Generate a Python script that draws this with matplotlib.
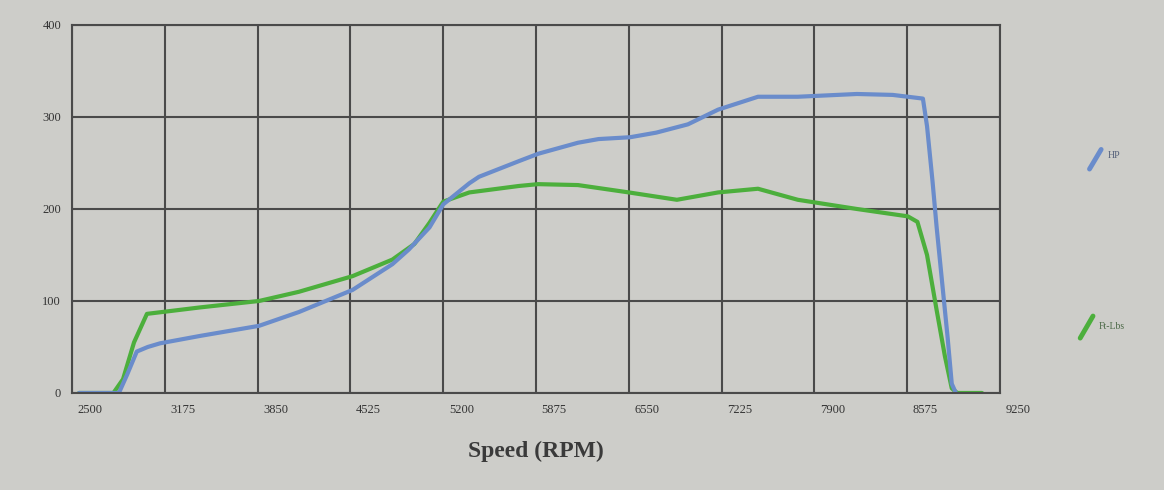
import matplotlib.pyplot as plt
import matplotlib.transforms as mtransforms
from matplotlib.lines import Line2D

# engine speed (RPM) and readings
hp_rpm = [2550, 2840, 2900, 2970, 3050, 3140, 3430, 3860, 4150, 4540, 4830, 4950,
          5100, 5200, 5390, 5460, 5750, 5890, 6180, 6330, 6560, 6750, 6980, 7200,
          7490, 7780, 8210, 8470, 8690, 8720, 8760, 8790, 8830, 8870, 8900, 8930]
hp = [0, 0, 20, 45, 50, 54, 62, 73, 88, 112, 140, 156,
      180, 205, 228, 235, 252, 260, 272, 276, 278, 283, 292, 308,
      322, 322, 325, 324, 320, 290, 230, 180, 120, 60, 10, 0]

tq_rpm = [2550, 2800, 2870, 2950, 3044, 3210, 3430, 3860, 4150, 4540, 4830, 4990,
          5100, 5200, 5390, 5750, 5890, 6180, 6550, 6900, 7200, 7490, 7780, 8210,
          8580, 8650, 8720, 8790, 8850, 8900, 8940, 9120]
torque = [0, 0, 15, 55, 86, 89, 93, 100, 110, 127, 145, 162,
          185, 208, 218, 225, 227, 226, 218, 210, 218, 222, 210, 200,
          192, 186, 150, 90, 40, 5, 0, 0]

x_ticks = [2500, 3175, 3850, 4525, 5200, 5875, 6550, 7225, 7900, 8575, 9250]
y_ticks = [0, 100, 200, 300, 400]

paper = '#cdcdc9'
grid_col = '#4a4a4a'
hp_col = '#6a8ccb'
tq_col = '#4caf3c'

plt.rcParams['font.family'] = ['Liberation Serif', 'DejaVu Serif']

fig = plt.figure(figsize=(11.64, 4.9), dpi=100, facecolor=paper)
ax = fig.add_axes([0.062, 0.198, 0.797, 0.751], facecolor=paper)

ax.plot(tq_rpm, torque, color=tq_col, lw=3, solid_capstyle='round')
ax.plot(hp_rpm, hp, color=hp_col, lw=3, solid_capstyle='round')

ax.set_xlim(2500, 9250)
ax.set_ylim(0, 400)
ax.set_xticks(x_ticks)
ax.set_yticks(y_ticks)
ax.set_xticklabels([str(t) for t in x_ticks], fontsize=9, color='#333333')
ax.set_yticklabels([str(t) for t in y_ticks], fontsize=9, color='#333333')
ax.tick_params(length=0, pad=8)

# labels sit a little to the right of the grid lines on the sheet
shift = mtransforms.ScaledTranslation(0.18, 0, fig.dpi_scale_trans)
for lbl in ax.get_xticklabels():
    lbl.set_transform(lbl.get_transform() + shift)

ax.grid(True, color=grid_col, lw=1.5)
ax.set_axisbelow(True)
for s in ax.spines.values():
    s.set_color(grid_col)
    s.set_linewidth(1.5)

ax.set_xlabel('Speed (RPM)', fontsize=17, fontweight='bold', color='#3a3a3a', labelpad=18)

# legend entries placed far apart at the right, as on the printout
fig.add_artist(Line2D([0.936, 0.946], [0.655, 0.695], transform=fig.transFigure,
                      color=hp_col, lw=3.5, solid_capstyle='round'))
fig.text(0.952, 0.682, 'HP', fontsize=7, color='#55607a', va='center')
fig.add_artist(Line2D([0.928, 0.939], [0.31, 0.355], transform=fig.transFigure,
                      color=tq_col, lw=3.5, solid_capstyle='round'))
fig.text(0.944, 0.333, 'Ft-Lbs', fontsize=7, color='#4d6a48', va='center')

fig.savefig('out.png', dpi=100, facecolor=paper)
